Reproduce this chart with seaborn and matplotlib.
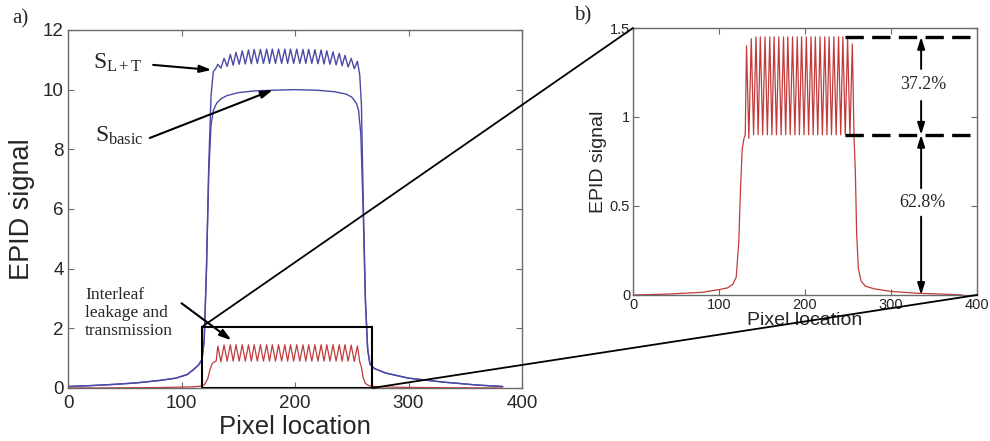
import matplotlib
matplotlib.use("Agg")
import matplotlib.pyplot as plt
import seaborn as sns
from matplotlib.patches import Rectangle, ConnectionPatch
from matplotlib.ticker import FuncFormatter

sns.set_style("ticks")
plt.rcParams['font.family'] = ['Liberation Sans', 'DejaVu Sans']
plt.rcParams['mathtext.fontset'] = 'custom'
plt.rcParams['mathtext.rm'] = 'Liberation Serif'
plt.rcParams['mathtext.it'] = 'Liberation Serif:italic'

# ---------------- data ----------------
ripple_x = [132, 134.7, 137.5, 140.2, 143, 145.5, 148, 150.8, 153.5, 156.2,
            159, 161.5, 164, 166.8, 169.5, 172.2, 175, 177.5, 180, 182.8,
            185.5, 188.2, 191, 193.5, 196, 198.8, 201.5, 204.2, 207, 209.5,
            212, 214.8, 217.5, 220.2, 223, 225.5, 228, 230.8, 233.5, 236.2,
            239, 241.5, 244, 246.8, 249.5, 252.2, 255]

# interleaf leakage and transmission (red)
leak_pre_x = [0, 40, 80, 100, 110, 116, 120, 123, 125, 127, 129, 130.5]
leak_pre_y = [0.0, 0.005, 0.015, 0.03, 0.04, 0.06, 0.1, 0.3, 0.6, 0.82, 0.88, 0.9]
leak_ripple_y = [1.40, 0.88, 1.44, 0.90, 1.45, 0.90, 1.45, 0.90, 1.45, 0.90,
                 1.45, 0.90, 1.45, 0.90, 1.45, 0.90, 1.45, 0.90, 1.45, 0.90,
                 1.45, 0.90, 1.45, 0.90, 1.45, 0.90, 1.45, 0.90, 1.45, 0.90,
                 1.45, 0.90, 1.45, 0.90, 1.45, 0.90, 1.45, 0.90, 1.45, 0.90,
                 1.45, 0.90, 1.45, 0.90, 1.44, 0.89, 1.41]
leak_post_x = [257, 258.5, 260, 262, 265, 270, 280, 300, 330, 360, 383]
leak_post_y = [0.88, 0.7, 0.35, 0.15, 0.08, 0.05, 0.035, 0.02, 0.01, 0.005, 0.0]

# S_L+T (blue, rippled)
slt_pre_x = [0, 20, 40, 60, 80, 95, 105, 110, 115, 118, 120, 122, 124, 126, 128, 130]
slt_pre_y = [0.05, 0.08, 0.12, 0.17, 0.25, 0.33, 0.45, 0.6, 0.77, 0.95,
             1.6, 4.0, 7.5, 9.8, 10.6, 10.7]
slt_ripple_y = [10.85, 10.72, 11.05, 10.78, 11.18, 10.82, 11.25, 10.85, 11.3, 10.86,
                11.33, 10.87, 11.35, 10.88, 11.35, 10.88, 11.36, 10.88, 11.36, 10.88,
                11.36, 10.88, 11.36, 10.88, 11.36, 10.88, 11.36, 10.88, 11.35, 10.88,
                11.35, 10.88, 11.34, 10.87, 11.33, 10.86, 11.3, 10.85, 11.27, 10.83,
                11.22, 10.8, 11.15, 10.76, 11.05, 10.7, 10.95]
slt_post_x = [257, 258.5, 260, 262, 264, 266, 270, 280, 300, 330, 360, 383]
slt_post_y = [10.5, 9.5, 6.5, 3.0, 1.3, 0.8, 0.65, 0.5, 0.33, 0.2, 0.1, 0.05]

# S_basic (blue, smooth)
basic_x = [0, 20, 40, 60, 80, 95, 105, 110, 115, 118,
           120, 122, 124, 126, 128, 131, 135, 140, 150, 165,
           180, 200, 220, 235, 245, 250, 254, 256, 258, 260,
           262, 264, 266, 270, 280, 300, 330, 360, 383]
basic_y = [0.05, 0.08, 0.12, 0.17, 0.25, 0.33, 0.45, 0.6, 0.77, 0.95,
           1.6, 4.0, 7.2, 8.8, 9.3, 9.55, 9.7, 9.8, 9.9, 9.96,
           9.98, 10.0, 9.98, 9.93, 9.85, 9.75, 9.55, 9.3, 8.5, 6.0,
           2.9, 1.3, 0.8, 0.65, 0.5, 0.33, 0.2, 0.1, 0.05]

x_ticks = [0, 100, 200, 300, 400]
ya_ticks = [0, 2, 4, 6, 8, 10, 12]
yb_ticks = [0, 0.5, 1, 1.5]
pct_upper = "37.2%"
pct_lower = "62.8%"
level_high = 1.45
level_mid = 0.9

leak_x = leak_pre_x + ripple_x + leak_post_x
leak_y = leak_pre_y + leak_ripple_y + leak_post_y
slt_x = slt_pre_x + ripple_x + slt_post_x
slt_y = slt_pre_y + slt_ripple_y + slt_post_y

BLUE = "#4a4aa6"
RED = "#c23b3b"
FRAME = "#6a6a6a"

fig = plt.figure(figsize=(9.9, 4.41), dpi=100)
ax_a = fig.add_axes([0.0687, 0.1202, 0.4586, 0.8118])
ax_b = fig.add_axes([0.6394, 0.3311, 0.3475, 0.6054])

def style(ax, fs):
    for s in ax.spines.values():
        s.set_color(FRAME)
        s.set_linewidth(1.0)
    ax.tick_params(direction='in', top=True, right=True, length=4, width=0.8,
                   color=FRAME, labelsize=fs, pad=3)
    ax.yaxis.set_major_formatter(FuncFormatter(lambda v, p: f"{v:g}"))

# ---------------- panel a ----------------
sns.lineplot(x=slt_x, y=slt_y, ax=ax_a, color=BLUE, lw=1.0, sort=False, estimator=None)
sns.lineplot(x=basic_x, y=basic_y, ax=ax_a, color=BLUE, lw=1.0, sort=False, estimator=None)
sns.lineplot(x=leak_x, y=leak_y, ax=ax_a, color=RED, lw=0.9, sort=False, estimator=None)
ax_a.set_xlim(0, 400)
ax_a.set_ylim(0, 12)
ax_a.set_xticks(x_ticks)
ax_a.set_yticks(ya_ticks)
style(ax_a, 13.5)
ax_a.tick_params(axis='x', pad=5)
ax_a.set_xlabel("Pixel location", fontsize=18.5, labelpad=2)
ax_a.set_ylabel("EPID signal", fontsize=19.5, labelpad=6)

ax_a.add_patch(Rectangle((118, 0), 150, 2.05, fill=False, ec='black', lw=1.5, zorder=5))

arrow_kw = dict(arrowstyle='-|>,head_length=0.7,head_width=0.22', color='black', lw=1.5,
                shrinkA=0, shrinkB=0)
ax_a.text(22, 10.9, r'$\mathrm{S}_{\mathrm{L+T}}$', fontsize=17, va='center', ha='left')
ax_a.annotate('', xy=(126.5, 10.66), xytext=(75, 10.83), arrowprops=arrow_kw)
ax_a.text(23.5, 8.45, r'$\mathrm{S}_{\mathrm{basic}}$', fontsize=17, va='center', ha='left')
ax_a.annotate('', xy=(180.5, 9.99), xytext=(72, 8.38), arrowprops=arrow_kw)
ax_a.text(15, 3.38, "Interleaf\nleakage and\ntransmission", fontsize=12.5,
          family=['Liberation Serif'], va='top', ha='left', linespacing=1.15)
ax_a.annotate('', xy=(144, 1.6), xytext=(100, 2.84), arrowprops=arrow_kw)

# ---------------- panel b ----------------
sns.lineplot(x=leak_x, y=leak_y, ax=ax_b, color=RED, lw=0.9, sort=False, estimator=None)
ax_b.set_xlim(0, 400)
ax_b.set_ylim(0, 1.5)
ax_b.set_xticks(x_ticks)
ax_b.set_yticks(yb_ticks)
style(ax_b, 10.5)
ax_b.tick_params(axis='both', pad=2)
ax_b.set_xlabel("Pixel location", fontsize=14, labelpad=0)
ax_b.set_ylabel("EPID signal", fontsize=14, labelpad=2)

dash_kw = dict(color='black', lw=2.4, dashes=(5.5, 2.5), clip_on=False, zorder=6)
ax_b.plot([246, 400], [level_high, level_high], **dash_kw)
ax_b.plot([246, 400], [level_mid, level_mid], **dash_kw)

arr_b = dict(arrowstyle='-|>,head_length=0.7,head_width=0.22', color='black', lw=1.4,
             shrinkA=0, shrinkB=0)
xa = 335
ax_b.annotate('', xy=(xa, level_high), xytext=(xa, 1.27), arrowprops=arr_b)
ax_b.annotate('', xy=(xa, level_mid), xytext=(xa, 1.09), arrowprops=arr_b)
ax_b.annotate('', xy=(xa, level_mid), xytext=(xa, 0.6), arrowprops=arr_b)
ax_b.annotate('', xy=(xa, 0), xytext=(xa, 0.44), arrowprops=arr_b)
ax_b.text(337, 1.18, pct_upper, fontsize=13, family=['Liberation Serif'], ha='center', va='center')
ax_b.text(337, 0.52, pct_lower, fontsize=13, family=['Liberation Serif'], ha='center', va='center')

# ---------------- connection lines ----------------
for xyA, xyB in [((118, 2.05), (0, 1.5)), ((268, 0), (400, 0))]:
    cp = ConnectionPatch(xyA=xyA, coordsA=ax_a.transData, xyB=xyB, coordsB=ax_b.transData,
                         color='black', lw=1.3, zorder=10)
    fig.add_artist(cp)

fig.text(0.012, 0.958, "a)", fontsize=15, family=['Liberation Serif'], va='center', ha='left')
fig.text(0.580, 0.963, "b)", fontsize=15, family=['Liberation Serif'], va='center', ha='left')

fig.savefig("out.png", dpi=100)
